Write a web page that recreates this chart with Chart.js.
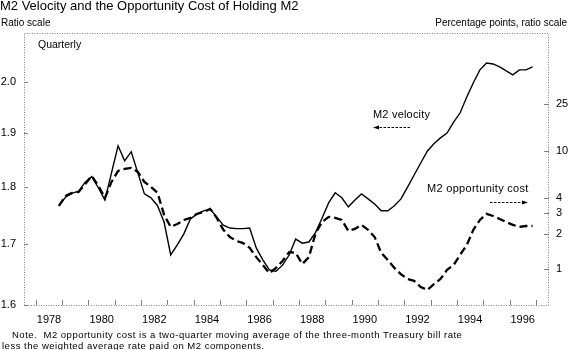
<!DOCTYPE html>
<html>
<head>
<meta charset="utf-8">
<script src="https://cdn.jsdelivr.net/npm/chart.js@4.4.1/dist/chart.umd.min.js"></script>
<style>
  html, body { margin: 0; padding: 0; background: #fff; }
  #wrap { position: relative; width: 570px; height: 350px; font-family: "Liberation Sans", Arial, sans-serif; color: #000; }
  #wrap canvas { position: absolute; left: 0; top: 0; }
  .txt { position: absolute; white-space: nowrap; line-height: 14px; }
</style>
</head>
<body>
<div id="wrap">
  <canvas id="chart" width="570" height="350"></canvas>
  <div class="txt" style="left:0; top:-1px; font-size:13px;">M2 Velocity and the Opportunity Cost of Holding M2</div>
  <div class="txt" style="left:1px; top:16px; font-size:10px;">Ratio scale</div>
  <div class="txt" style="right:3px; top:16px; font-size:10px;">Percentage points, ratio scale</div>
  <div class="txt" style="left:38px; top:37px; font-size:10.5px;">Quarterly</div>
  <div class="txt" style="left:373px; top:107px; font-size:11px; letter-spacing:0.2px;">M2 velocity</div>
  <div class="txt" style="left:427px; top:181px; font-size:11px; letter-spacing:0.3px;">M2 opportunity cost</div>
  <div class="txt" style="left:12px; top:328px; font-size:9.5px; letter-spacing:0.5px;">Note.&nbsp; M2 opportunity cost is a two-quarter moving average of the three-month Treasury bill rate</div>
  <div class="txt" style="left:2px; top:339px; font-size:9.5px; letter-spacing:0.5px;">less the weighted average rate paid on M2 components.</div>
</div>
<script>
// ===============================
// DATA (quarterly, 1978:Q4 - 1996:Q4)
// ===============================
const firstYear = 1978;
const firstQuarter = 4;

// M2 velocity, left axis (ratio scale)
const velocity = [
  1.767, 1.782, 1.789, 1.793, 1.809, 1.819, 1.799, 1.777, 1.826, 1.876,
  1.848, 1.865, 1.826, 1.788, 1.781, 1.767, 1.738, 1.682, 1.699, 1.718,
  1.744, 1.752, 1.758, 1.761, 1.747, 1.733, 1.728, 1.727, 1.727, 1.728,
  1.694, 1.674, 1.657, 1.655, 1.665, 1.682, 1.709, 1.702, 1.704, 1.720,
  1.745, 1.772, 1.790, 1.781, 1.765, 1.777, 1.788, 1.779, 1.770, 1.758,
  1.758, 1.767, 1.779, 1.800, 1.822, 1.844, 1.866, 1.880, 1.891, 1.900,
  1.921, 1.939, 1.970, 1.998, 2.024, 2.038, 2.036, 2.030, 2.022, 2.014,
  2.024, 2.024, 2.030
];

// M2 opportunity cost, right axis (percentage points, ratio scale)
const oppCost = [
  3.44, 4.19, 4.44, 4.53, 5.29, 6.18, 5.09, 4.03, 5.50, 6.81,
  7.08, 7.22, 6.68, 5.50, 4.99, 4.44, 2.89, 2.29, 2.42, 2.62,
  2.73, 2.95, 3.06, 3.25, 2.73, 2.16, 1.88, 1.74, 1.67, 1.52,
  1.27, 1.09, 0.93, 1.03, 1.18, 1.40, 1.38, 1.11, 1.27, 2.00,
  2.52, 2.78, 2.73, 2.62, 2.12, 2.20, 2.38, 2.16, 1.88, 1.38,
  1.20, 1.03, 0.91, 0.83, 0.80, 0.71, 0.67, 0.75, 0.83, 0.99,
  1.09, 1.33, 1.61, 2.16, 2.62, 2.95, 2.83, 2.67, 2.52, 2.38,
  2.29, 2.33, 2.33
];

const yearLabels = [1978, 1980, 1982, 1984, 1986, 1988, 1990, 1992, 1994, 1996];
const yearTicks = [1978, 1979, 1980, 1981, 1982, 1983, 1984, 1985, 1986, 1987,
                   1988, 1989, 1990, 1991, 1992, 1993, 1994, 1995, 1996, 1997];
const leftTicks = [1.6, 1.7, 1.8, 1.9, 2.0];
const rightTicks = [1, 2, 3, 4, 10, 25];

// ===============================
// HELPERS
// ===============================
// quarter i -> middle of the quarter in fractional years
function quarterX(i) {
  const q = firstQuarter - 1 + i;
  return firstYear + Math.floor(q / 4) + ((q % 4) + 0.5) / 4;
}

const toPoints = arr => arr.map((v, i) => ({ x: quarterX(i), y: v }));

const FONT = '"Liberation Sans", Arial, sans-serif';

// dotted frame, inward tick marks and the two arrows
const framePlugin = {
  id: "frame",
  afterDraw(chart) {
    const { ctx, chartArea: a, scales } = chart;
    ctx.save();
    ctx.strokeStyle = "#808080";
    ctx.lineWidth = 1;

    // frame
    ctx.setLineDash([1, 1.5]);
    ctx.strokeRect(a.left + 0.5, a.top + 0.5, a.right - a.left - 1, a.bottom - a.top);

    // x ticks (year boundaries)
    ctx.setLineDash([]);
    ctx.beginPath();
    yearTicks.forEach(yr => {
      const x = Math.round(scales.x.getPixelForValue(yr)) + 0.5;
      ctx.moveTo(x, a.bottom);
      ctx.lineTo(x, a.bottom - 5);
    });
    leftTicks.forEach(v => {
      const y = Math.round(scales.y.getPixelForValue(v)) + 0.5;
      ctx.moveTo(a.left, y);
      ctx.lineTo(a.left + 4, y);
    });
    rightTicks.forEach(v => {
      const y = Math.round(scales.y2.getPixelForValue(v)) + 0.5;
      ctx.moveTo(a.right - 5, y);
      ctx.lineTo(a.right, y);
    });
    ctx.stroke();

    // arrows
    drawArrow(ctx, 410, 127, 374, 127);
    drawArrow(ctx, 490, 202, 527, 202);
    ctx.restore();
  }
};

function drawArrow(ctx, x1, y1, x2, y2) {
  ctx.save();
  ctx.strokeStyle = "#000";
  ctx.fillStyle = "#000";
  ctx.lineWidth = 1;
  ctx.setLineDash([2.5, 1.5]);
  ctx.beginPath();
  ctx.moveTo(x1, y1 + 0.5);
  ctx.lineTo(x2, y2 + 0.5);
  ctx.stroke();
  ctx.setLineDash([]);
  const dir = Math.sign(x2 - x1);
  ctx.beginPath();
  ctx.moveTo(x2 + dir, y2 + 0.5);
  ctx.lineTo(x2 - dir * 5, y2 - 1.5);
  ctx.lineTo(x2 - dir * 5, y2 + 2.5);
  ctx.closePath();
  ctx.fill();
  ctx.restore();
}

// ===============================
// CHART
// ===============================
new Chart(document.getElementById("chart"), {
  type: "line",
  data: {
    datasets: [
      {
        label: "M2 velocity",
        data: toPoints(velocity),
        yAxisID: "y",
        borderColor: "#000",
        borderWidth: 1.4,
        pointRadius: 0,
        tension: 0
      },
      {
        label: "M2 opportunity cost",
        data: toPoints(oppCost),
        yAxisID: "y2",
        borderColor: "#000",
        borderWidth: 2.3,
        borderDash: [8, 4],
        pointRadius: 0,
        tension: 0
      }
    ]
  },
  options: {
    responsive: false,
    animation: false,
    layout: { padding: { top: 33, left: 0, right: 0, bottom: 0 } },
    plugins: {
      legend: { display: false },
      tooltip: { enabled: false },
      title: { display: false }
    },
    scales: {
      x: {
        type: "linear",
        min: 1977.55,
        max: 1997.5,
        afterBuildTicks: s => { s.ticks = yearLabels.map(v => ({ value: v + 0.5 })); },
        afterFit: s => { s.height = 45; },
        grid: { display: false, drawTicks: false },
        border: { display: false },
        ticks: {
          autoSkip: false,
          maxRotation: 0,
          padding: 8,
          color: "#000",
          font: { family: FONT, size: 11 },
          callback: v => String(Math.floor(v))
        }
      },
      y: {
        type: "logarithmic",
        position: "left",
        min: 1.6,
        max: 2.1,
        afterBuildTicks: s => { s.ticks = leftTicks.map(v => ({ value: v })); },
        afterFit: s => { s.width = 24; },
        grid: { display: false, drawTicks: false },
        border: { display: false },
        ticks: {
          padding: 8,
          color: "#000",
          font: { family: FONT, size: 11 },
          callback: v => Number(v).toFixed(1)
        }
      },
      y2: {
        type: "logarithmic",
        position: "right",
        min: 0.5,
        max: 100,
        afterBuildTicks: s => { s.ticks = rightTicks.map(v => ({ value: v })); },
        afterFit: s => { s.width = 21; },
        grid: { display: false, drawTicks: false },
        border: { display: false },
        ticks: {
          padding: 7,
          color: "#000",
          font: { family: FONT, size: 11 },
          callback: v => String(v)
        }
      }
    }
  },
  plugins: [framePlugin]
});
</script>
</body>
</html>
